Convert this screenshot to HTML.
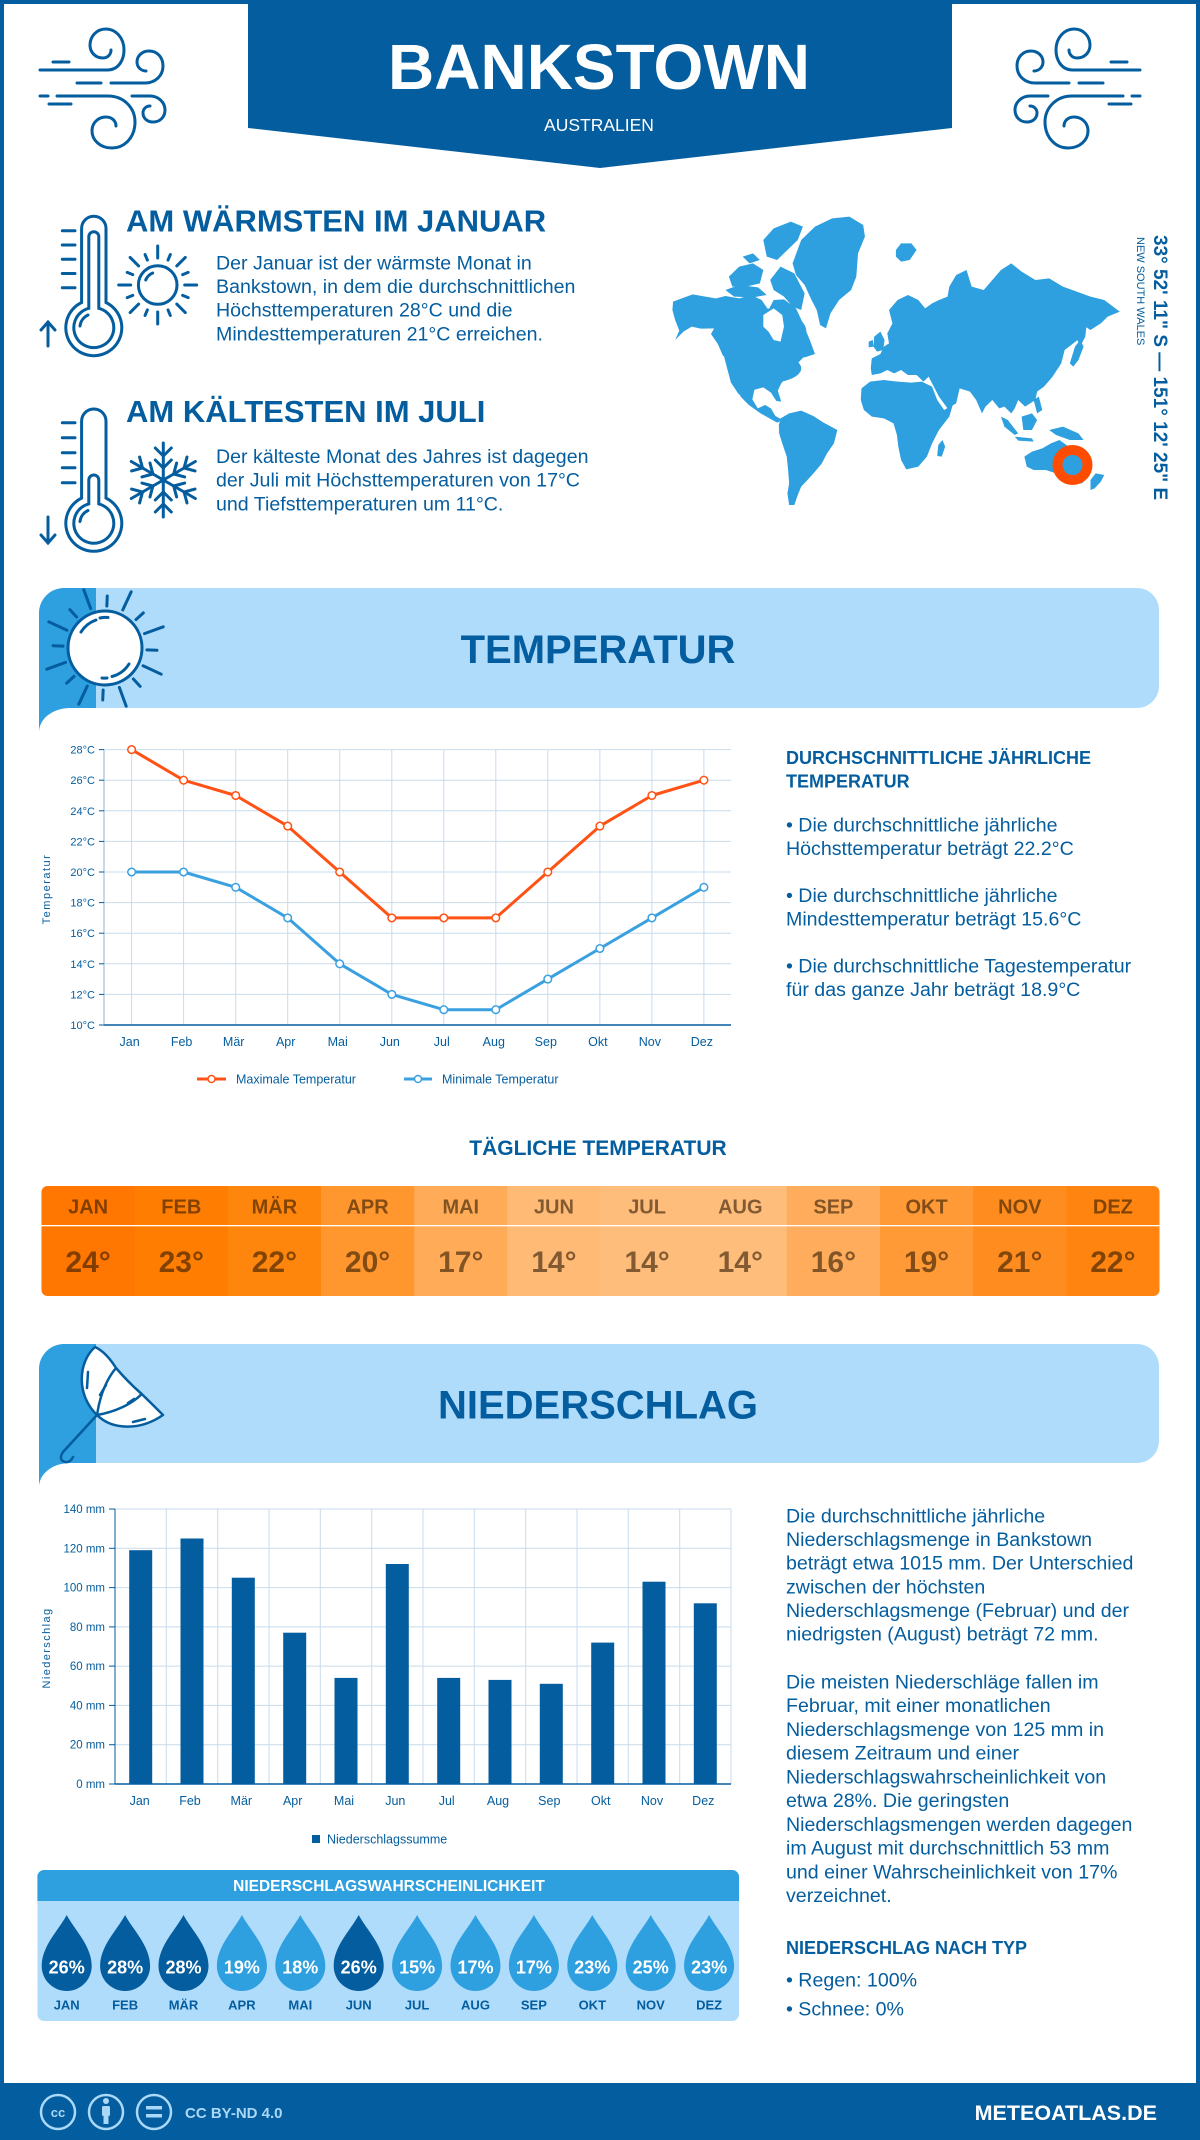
<!DOCTYPE html>
<html lang="de">
<head>
<meta charset="utf-8">
<title>Bankstown – Klima</title>
<style>
  html,body{margin:0;padding:0;background:#fff;}
  body{width:1200px;height:2140px;position:relative;overflow:hidden;font-family:"Liberation Sans",sans-serif;}
  .frame{position:absolute;left:0;top:0;width:1200px;height:2140px;box-sizing:border-box;border:4px solid #045d9e;}
  svg{position:absolute;left:0;top:0;}
</style>
</head>
<body>
<div class="frame"></div>
<svg width="1200" height="2140" viewBox="0 0 1200 2140" font-family="'Liberation Sans', sans-serif">
  <defs>
    <g id="windicon" fill="none" stroke="#045d9e" stroke-width="3" stroke-linecap="round">
      <path d="M40,70 H107 C120,70 124,58 124,50 C124,37 115,29 106,29 C96,29 90,37 90,45 C90,53 96,58 103,58 C108,58 111,54 111,50"/>
      <path d="M53,62 H69"/>
      <path d="M77,83 H101"/>
      <path d="M111,83 H145 C155,83 163,76 163,66 C163,57 157,51 149,51 C142,51 137,56 137,62 C137,67 141,71 146,71"/>
      <path d="M40,96 H48"/>
      <path d="M57,96 H108 C124,96 135,108 135,122 C135,138 124,148 112,148 C100,148 92,140 92,131 C92,123 98,117 106,117 C112,117 116,121 116,126"/>
      <path d="M132,96 H150 C158,96 165,102 165,110 C165,117 160,122 153,122 C147,122 143,118 143,113 C143,109 146,106 150,106"/>
      <path d="M49,104 H71"/>
    </g>
    <path id="drop" d="M0,1915 C8,1930 25,1946 25,1966 A25,25 0 0 1 -25,1966 C-25,1946 -8,1930 0,1915 Z"/>
    <clipPath id="tblclip"><rect x="41.5" y="1186" width="1118" height="110" rx="6"/></clipPath>
    <clipPath id="probclip"><rect x="37.3" y="1870" width="701.7" height="151" rx="7"/></clipPath>
  </defs>

  <!-- HEADER -->
  <polygon points="248,0 952,0 952,128 600,168 248,128" fill="#045d9e"/>
  <text x="599" y="89" text-anchor="middle" font-size="64" font-weight="bold" fill="#fff">BANKSTOWN</text>
  <text x="599" y="131" text-anchor="middle" font-size="17.5" fill="#fff">AUSTRALIEN</text>
  <use href="#windicon"/>
  <g transform="translate(1180,0) scale(-1,1)"><use href="#windicon"/></g>

  <!-- WARMEST / COLDEST -->
  <text x="126" y="231.5" font-size="31" font-weight="bold" fill="#045d9e">AM WÄRMSTEN IM JANUAR</text>
  <g font-size="19.6" fill="#045d9e">
    <text x="216" y="269.3">Der Januar ist der wärmste Monat in</text>
    <text x="216" y="293">Bankstown, in dem die durchschnittlichen</text>
    <text x="216" y="316.7">Höchsttemperaturen 28°C und die</text>
    <text x="216" y="340.4">Mindesttemperaturen 21°C erreichen.</text>
  </g>
  <text x="126" y="422" font-size="31" font-weight="bold" fill="#045d9e">AM KÄLTESTEN IM JULI</text>
  <g font-size="19.6" fill="#045d9e">
    <text x="216" y="463">Der kälteste Monat des Jahres ist dagegen</text>
    <text x="216" y="486.7">der Juli mit Höchsttemperaturen von 17°C</text>
    <text x="216" y="510.4">und Tiefsttemperaturen um 11°C.</text>
  </g>

  <!-- thermometer 1 -->
  <g fill="none" stroke="#045d9e" stroke-width="3" stroke-linecap="round">
    <path d="M81.6,302.5 V228.4 A12.2,12.2 0 0 1 106,228.4 V302.5 A28,28 0 1 1 81.6,302.5 Z"/>
    <path d="M88.8,308.3 V236.7 A5,5 0 0 1 98.8,236.7 V308.3 A20,20 0 1 1 88.8,308.3 Z"/>
    <path d="M80,326 A14,14 0 0 1 88,315"/>
    <path d="M62.3,230.7 H75 M62.3,245 H75 M62.3,259.3 H75 M62.3,273.5 H75 M62.3,287.7 H75"/>
    <path d="M48,346 V322 M41,330 L48,322 L55,330"/>
  </g>
  <!-- sun icon -->
  <g transform="translate(157.7,285)" fill="none" stroke="#045d9e" stroke-width="3" stroke-linecap="round">
    <circle r="19.3"/>
    <path d="M-12,-5 A13,13 0 0 1 -5,-12"/>
    <line x1="27" y1="0" x2="39" y2="0"/>
    <line x1="27" y1="0" x2="33" y2="0" transform="rotate(22.5)"/>
    <line x1="27" y1="0" x2="39" y2="0" transform="rotate(45)"/>
    <line x1="27" y1="0" x2="33" y2="0" transform="rotate(67.5)"/>
    <line x1="27" y1="0" x2="39" y2="0" transform="rotate(90)"/>
    <line x1="27" y1="0" x2="33" y2="0" transform="rotate(112.5)"/>
    <line x1="27" y1="0" x2="39" y2="0" transform="rotate(135)"/>
    <line x1="27" y1="0" x2="33" y2="0" transform="rotate(157.5)"/>
    <line x1="27" y1="0" x2="39" y2="0" transform="rotate(180)"/>
    <line x1="27" y1="0" x2="33" y2="0" transform="rotate(202.5)"/>
    <line x1="27" y1="0" x2="39" y2="0" transform="rotate(225)"/>
    <line x1="27" y1="0" x2="33" y2="0" transform="rotate(247.5)"/>
    <line x1="27" y1="0" x2="39" y2="0" transform="rotate(270)"/>
    <line x1="27" y1="0" x2="33" y2="0" transform="rotate(292.5)"/>
    <line x1="27" y1="0" x2="39" y2="0" transform="rotate(315)"/>
    <line x1="27" y1="0" x2="33" y2="0" transform="rotate(337.5)"/>
  </g>
  <!-- thermometer 2 -->
  <g fill="none" stroke="#045d9e" stroke-width="3" stroke-linecap="round">
    <path d="M81.6,498.1 V421.2 A12.2,12.2 0 0 1 106,421.2 V498.1 A28,28 0 1 1 81.6,498.1 Z"/>
    <path d="M88.8,503.9 V480 A5,5 0 0 1 98.8,480 V503.9 A20,20 0 1 1 88.8,503.9 Z"/>
    <path d="M80,521.5 A14,14 0 0 1 88,510.5"/>
    <path d="M62.3,422.7 H75 M62.3,437.7 H75 M62.3,452.7 H75 M62.3,467.7 H75 M62.3,482.7 H75"/>
    <path d="M48,517 V543 M41,535 L48,543 L55,535"/>
  </g>
  <!-- snowflake -->
  <g transform="translate(163.3,480)" fill="none" stroke="#045d9e" stroke-width="3" stroke-linecap="round" stroke-linejoin="round">
    <g id="arm"><line x1="0" y1="0" x2="0" y2="-37"/><polyline points="-8,-20 0,-12 8,-20"/><polyline points="-8,-32 0,-24 8,-32"/></g>
    <use href="#arm" transform="rotate(60)"/>
    <use href="#arm" transform="rotate(120)"/>
    <use href="#arm" transform="rotate(180)"/>
    <use href="#arm" transform="rotate(240)"/>
    <use href="#arm" transform="rotate(300)"/>
  </g>

  <!-- WORLD MAP -->
  <g transform="translate(660,200) scale(0.34439,0.33333)" fill="#2e9fdf">
    <ellipse cx="300" cy="395" rx="125" ry="70"/>
    <ellipse cx="305" cy="505" rx="105" ry="45"/>
    <!-- Alaska -->
    <polygon points="38,305 95,283 165,296 172,385 118,386 92,380 68,395 44,420 56,392 44,360 36,330"/>
    <!-- Canada -->
    <polygon points="160,296 190,288 230,295 265,285 295,300 315,330 330,300 360,298 395,325 415,370 435,420 450,462 420,472 380,470 300,462 230,462 183,468 168,432 148,402 160,380"/>
    <!-- USA -->
    <polygon points="183,458 300,452 422,466 395,495 372,525 352,550 342,572 352,605 338,603 322,578 300,562 272,570 250,580 228,582 206,548 195,505"/>
    <!-- Mexico / Central America -->
    <polygon points="222,570 275,565 268,598 284,625 305,615 322,625 335,648 356,660 340,668 318,655 292,640 258,615 236,592"/>
    <!-- Arctic islands -->
    <polygon points="320,240 350,200 390,220 420,280 410,330 385,320 360,290 330,270"/>
    <polygon points="300,120 330,85 380,65 415,80 400,120 370,150 340,180 310,170"/>
    <polygon points="200,230 230,200 270,190 300,210 290,250 250,260 210,260"/>
    <polygon points="240,170 270,160 290,180 260,190"/>
    <polygon points="190,270 230,255 285,262 310,285 270,292 215,290"/>
    <!-- Greenland -->
    <polygon points="385,190 410,120 450,80 500,55 550,50 590,75 595,110 575,160 570,230 555,270 520,300 495,340 482,385 465,375 455,330 440,300 420,255 395,225"/>
    <!-- Iceland -->
    <polygon points="685,150 700,130 730,130 745,150 725,180 700,185 685,170"/>
    <!-- Eurasia -->
    <polygon points="612,505 615,475 640,462 650,440 665,430 660,400 675,370 665,330 690,300 720,285 750,300 770,325 790,310 810,300 835,290 840,260 860,225 890,210 905,260 940,270 965,240 990,210 1020,190 1050,215 1090,240 1130,235 1170,260 1210,275 1250,290 1290,300 1335,335 1300,350 1280,370 1250,390 1235,380 1225,410 1200,430 1175,450 1165,490 1140,530 1115,560 1095,575 1090,600 1060,620 1040,600 1030,625 1020,640 1000,620 985,625 965,600 945,620 935,640 918,600 900,575 870,565 860,610 835,625 810,590 795,560 780,530 765,545 745,525 720,525 700,510 680,520 660,510 640,520 615,525"/>
    <!-- Africa -->
    <polygon points="585,565 610,545 650,540 690,545 730,548 760,545 790,560 805,600 825,630 850,615 840,650 810,690 790,730 775,770 750,800 715,808 700,780 692,740 688,705 678,670 650,655 615,650 592,630 583,600"/>
    <polygon points="808,735 820,720 828,740 818,770 805,768"/>
    <polygon points="622,410 640,395 652,420 648,450 630,455 620,440"/>
    <polygon points="606,425 618,420 620,440 606,442"/>
    <polygon points="1205,440 1220,420 1230,440 1215,480 1200,500 1190,490"/>
    <polygon points="1215,370 1240,360 1235,410 1220,440 1212,420"/>
    <polygon points="990,650 1010,660 1040,700 1030,705 1000,680"/>
    <polygon points="1050,650 1080,640 1095,660 1080,690 1055,690"/>
    <polygon points="1030,710 1080,715 1085,725 1040,722"/>
    <polygon points="1130,690 1170,680 1215,700 1230,720 1190,720 1150,705"/>
    <polygon points="1085,600 1100,590 1110,630 1095,640"/>
    <!-- Australia / NZ -->
    <polygon points="1058,770 1080,755 1110,745 1135,730 1160,720 1180,735 1195,750 1220,770 1245,800 1245,830 1225,850 1195,850 1170,835 1150,820 1120,810 1085,810 1065,800"/>
    <polygon points="1250,840 1265,820 1290,825 1280,845 1262,865 1250,870"/>
    <!-- South America -->
    <polygon points="350,655 375,640 410,632 445,648 475,668 515,690 505,730 485,760 470,790 450,815 430,838 410,860 400,885 390,915 375,915 370,880 375,850 372,810 368,770 355,730 346,700 345,675"/>
    <!-- Hudson Bay -->
    <polygon fill="#fff" points="300,345 330,325 355,345 360,380 350,425 330,420 315,395 300,380"/>
  </g>
  <circle cx="1072.5" cy="465" r="15" fill="none" stroke="#ff4c00" stroke-width="10"/>
  <text transform="translate(1154,235) rotate(90)" font-size="19" font-weight="bold" fill="#045d9e">33° 52' 11" S — 151° 12' 25" E</text>
  <text transform="translate(1137,237) rotate(90)" font-size="11" fill="#045d9e">NEW SOUTH WALES</text>

  <!-- TEMPERATURE BANNER -->
  <path d="M39,732 V613 A25,25 0 0 1 64,588 H96 V708 H70 A31,24 0 0 0 39,732 Z" fill="#2e9fdf"/>
  <path d="M96,588 H1137 A22,22 0 0 1 1159,610 V686 A22,22 0 0 1 1137,708 H96 Z" fill="#b0dcfc"/>
  <g stroke="#045d9e" stroke-width="3" stroke-linecap="round" transform="translate(105,648)">
    <line x1="42" y1="0" x2="62" y2="0" transform="rotate(-110)"/>
    <line x1="42" y1="0" x2="52" y2="0" transform="rotate(-87.5)"/>
    <line x1="42" y1="0" x2="62" y2="0" transform="rotate(-65)"/>
    <line x1="42" y1="0" x2="52" y2="0" transform="rotate(-42.5)"/>
    <line x1="42" y1="0" x2="62" y2="0" transform="rotate(-20)"/>
    <line x1="42" y1="0" x2="52" y2="0" transform="rotate(2.5)"/>
    <line x1="42" y1="0" x2="62" y2="0" transform="rotate(25)"/>
    <line x1="42" y1="0" x2="52" y2="0" transform="rotate(47.5)"/>
    <line x1="42" y1="0" x2="62" y2="0" transform="rotate(70)"/>
    <line x1="42" y1="0" x2="52" y2="0" transform="rotate(92.5)"/>
    <line x1="42" y1="0" x2="62" y2="0" transform="rotate(115)"/>
    <line x1="42" y1="0" x2="52" y2="0" transform="rotate(137.5)"/>
    <line x1="42" y1="0" x2="62" y2="0" transform="rotate(160)"/>
    <line x1="42" y1="0" x2="52" y2="0" transform="rotate(182.5)"/>
    <line x1="42" y1="0" x2="62" y2="0" transform="rotate(205)"/>
    <line x1="42" y1="0" x2="52" y2="0" transform="rotate(227.5)"/>
    <circle r="37" fill="#fff"/>
    <path d="M-24,-16 A29,29 0 0 1 -9,-28" fill="none"/>
    <path d="M-5,-30 A30,30 0 0 1 3,-30.5" fill="none"/>
    <path d="M24,16 A29,29 0 0 1 7,28.5" fill="none"/>
    <path d="M2,30 A30,30 0 0 1 -3,30" fill="none"/>
  </g>
  <text x="598" y="663" text-anchor="middle" font-size="40" font-weight="bold" fill="#045d9e">TEMPERATUR</text>

  <!-- TEMPERATURE CHART -->
  <g stroke="#c8dbeb" stroke-width="1">
    <line x1="104" y1="749.6" x2="731" y2="749.6"/>
    <line x1="104" y1="780.2" x2="731" y2="780.2"/>
    <line x1="104" y1="810.8" x2="731" y2="810.8"/>
    <line x1="104" y1="841.4" x2="731" y2="841.4"/>
    <line x1="104" y1="872" x2="731" y2="872"/>
    <line x1="104" y1="902.6" x2="731" y2="902.6"/>
    <line x1="104" y1="933.2" x2="731" y2="933.2"/>
    <line x1="104" y1="963.8" x2="731" y2="963.8"/>
    <line x1="104" y1="994.4" x2="731" y2="994.4"/>
    <line x1="131.6" y1="749.6" x2="131.6" y2="1025"/>
    <line x1="183.6" y1="749.6" x2="183.6" y2="1025"/>
    <line x1="235.7" y1="749.6" x2="235.7" y2="1025"/>
    <line x1="287.7" y1="749.6" x2="287.7" y2="1025"/>
    <line x1="339.7" y1="749.6" x2="339.7" y2="1025"/>
    <line x1="391.8" y1="749.6" x2="391.8" y2="1025"/>
    <line x1="443.8" y1="749.6" x2="443.8" y2="1025"/>
    <line x1="495.8" y1="749.6" x2="495.8" y2="1025"/>
    <line x1="547.8" y1="749.6" x2="547.8" y2="1025"/>
    <line x1="599.9" y1="749.6" x2="599.9" y2="1025"/>
    <line x1="651.9" y1="749.6" x2="651.9" y2="1025"/>
    <line x1="703.9" y1="749.6" x2="703.9" y2="1025"/>
  </g>
  <line x1="104" y1="749.6" x2="104" y2="1025" stroke="#8fb3d3" stroke-width="1"/>
  <line x1="104" y1="1025" x2="731" y2="1025" stroke="#045d9e" stroke-width="1.5"/>
  <g stroke="#045d9e" stroke-width="1">
    <line x1="99" y1="749.6" x2="104" y2="749.6"/><line x1="99" y1="780.2" x2="104" y2="780.2"/>
    <line x1="99" y1="810.8" x2="104" y2="810.8"/><line x1="99" y1="841.4" x2="104" y2="841.4"/>
    <line x1="99" y1="872" x2="104" y2="872"/><line x1="99" y1="902.6" x2="104" y2="902.6"/>
    <line x1="99" y1="933.2" x2="104" y2="933.2"/><line x1="99" y1="963.8" x2="104" y2="963.8"/>
    <line x1="99" y1="994.4" x2="104" y2="994.4"/><line x1="99" y1="1025" x2="104" y2="1025"/>
  </g>
  <g font-size="11" fill="#045d9e" text-anchor="end">
    <text x="95" y="753.6">28°C</text><text x="95" y="784.2">26°C</text>
    <text x="95" y="814.8">24°C</text><text x="95" y="845.4">22°C</text>
    <text x="95" y="876">20°C</text><text x="95" y="906.6">18°C</text>
    <text x="95" y="937.2">16°C</text><text x="95" y="967.8">14°C</text>
    <text x="95" y="998.4">12°C</text><text x="95" y="1029">10°C</text>
  </g>
  <g font-size="12.5" fill="#045d9e" text-anchor="middle">
    <text x="129.6" y="1046">Jan</text><text x="181.6" y="1046">Feb</text>
    <text x="233.7" y="1046">Mär</text><text x="285.7" y="1046">Apr</text>
    <text x="337.7" y="1046">Mai</text><text x="389.8" y="1046">Jun</text>
    <text x="441.8" y="1046">Jul</text><text x="493.8" y="1046">Aug</text>
    <text x="545.8" y="1046">Sep</text><text x="597.9" y="1046">Okt</text>
    <text x="649.9" y="1046">Nov</text><text x="701.9" y="1046">Dez</text>
  </g>
  <text transform="translate(50,889) rotate(-90)" text-anchor="middle" font-size="11" letter-spacing="1.5" fill="#045d9e">Temperatur</text>
  <polyline fill="none" stroke="#ff5214" stroke-width="3" stroke-linejoin="round"
    points="131.6,749.6 183.6,780.2 235.7,795.5 287.7,826.1 339.7,872 391.8,917.9 443.8,917.9 495.8,917.9 547.8,872 599.9,826.1 651.9,795.5 703.9,780.2"/>
  <polyline fill="none" stroke="#3aa0e0" stroke-width="3" stroke-linejoin="round"
    points="131.6,872 183.6,872 235.7,887.3 287.7,917.9 339.7,963.8 391.8,994.4 443.8,1009.7 495.8,1009.7 547.8,979.1 599.9,948.5 651.9,917.9 703.9,887.3"/>
  <g fill="#fff" stroke="#ff5214" stroke-width="1.5">
    <circle cx="131.6" cy="749.6" r="3.8"/><circle cx="183.6" cy="780.2" r="3.8"/>
    <circle cx="235.7" cy="795.5" r="3.8"/><circle cx="287.7" cy="826.1" r="3.8"/>
    <circle cx="339.7" cy="872" r="3.8"/><circle cx="391.8" cy="917.9" r="3.8"/>
    <circle cx="443.8" cy="917.9" r="3.8"/><circle cx="495.8" cy="917.9" r="3.8"/>
    <circle cx="547.8" cy="872" r="3.8"/><circle cx="599.9" cy="826.1" r="3.8"/>
    <circle cx="651.9" cy="795.5" r="3.8"/><circle cx="703.9" cy="780.2" r="3.8"/>
  </g>
  <g fill="#fff" stroke="#3aa0e0" stroke-width="1.5">
    <circle cx="131.6" cy="872" r="3.8"/><circle cx="183.6" cy="872" r="3.8"/>
    <circle cx="235.7" cy="887.3" r="3.8"/><circle cx="287.7" cy="917.9" r="3.8"/>
    <circle cx="339.7" cy="963.8" r="3.8"/><circle cx="391.8" cy="994.4" r="3.8"/>
    <circle cx="443.8" cy="1009.7" r="3.8"/><circle cx="495.8" cy="1009.7" r="3.8"/>
    <circle cx="547.8" cy="979.1" r="3.8"/><circle cx="599.9" cy="948.5" r="3.8"/>
    <circle cx="651.9" cy="917.9" r="3.8"/><circle cx="703.9" cy="887.3" r="3.8"/>
  </g>
  <!-- legend -->
  <line x1="197" y1="1079" x2="226" y2="1079" stroke="#ff5214" stroke-width="3"/>
  <circle cx="211.5" cy="1079" r="3.5" fill="#fff" stroke="#ff5214" stroke-width="1.5"/>
  <text x="236" y="1083.5" font-size="12.5" fill="#045d9e">Maximale Temperatur</text>
  <line x1="404" y1="1079" x2="432" y2="1079" stroke="#3aa0e0" stroke-width="3"/>
  <circle cx="418" cy="1079" r="3.5" fill="#fff" stroke="#3aa0e0" stroke-width="1.5"/>
  <text x="442" y="1083.5" font-size="12.5" fill="#045d9e">Minimale Temperatur</text>

  <!-- right text temperature -->
  <g font-size="18" font-weight="bold" fill="#045d9e">
    <text x="786" y="764">DURCHSCHNITTLICHE JÄHRLICHE</text>
    <text x="786" y="787.6">TEMPERATUR</text>
  </g>
  <g font-size="19.6" fill="#045d9e">
    <text x="786" y="831.5">• Die durchschnittliche jährliche</text>
    <text x="786" y="855">Höchsttemperatur beträgt 22.2°C</text>
    <text x="786" y="902">• Die durchschnittliche jährliche</text>
    <text x="786" y="925.5">Mindesttemperatur beträgt 15.6°C</text>
    <text x="786" y="972.5">• Die durchschnittliche Tagestemperatur</text>
    <text x="786" y="996">für das ganze Jahr beträgt 18.9°C</text>
  </g>

  <!-- DAILY TEMPERATURE -->
  <text x="598" y="1155" text-anchor="middle" font-size="21" font-weight="bold" fill="#045d9e">TÄGLICHE TEMPERATUR</text>
  <g clip-path="url(#tblclip)">
    <rect x="41.5" y="1186" width="94" height="110" fill="#ff7600"/>
    <rect x="134.7" y="1186" width="94" height="110" fill="#ff7e02"/>
    <rect x="227.8" y="1186" width="94" height="110" fill="#ff860c"/>
    <rect x="321" y="1186" width="94" height="110" fill="#ff962e"/>
    <rect x="414.2" y="1186" width="94" height="110" fill="#ffab57"/>
    <rect x="507.3" y="1186" width="94" height="110" fill="#ffba75"/>
    <rect x="600.5" y="1186" width="94" height="110" fill="#ffbd7b"/>
    <rect x="693.7" y="1186" width="94" height="110" fill="#ffbd7b"/>
    <rect x="786.8" y="1186" width="94" height="110" fill="#ffad5c"/>
    <rect x="880" y="1186" width="94" height="110" fill="#ff9a37"/>
    <rect x="973.2" y="1186" width="94" height="110" fill="#ff8c1e"/>
    <rect x="1066.3" y="1186" width="94" height="110" fill="#ff8510"/>
    <rect x="41.5" y="1225" width="1118" height="1.3" fill="#fff"/>
  </g>
  <g font-size="20" font-weight="bold" fill="rgba(40,20,0,0.58)" text-anchor="middle">
    <text x="88.1" y="1213.3">JAN</text><text x="181.3" y="1213.3">FEB</text>
    <text x="274.4" y="1213.3">MÄR</text><text x="367.6" y="1213.3">APR</text>
    <text x="460.8" y="1213.3">MAI</text><text x="553.9" y="1213.3">JUN</text>
    <text x="647.1" y="1213.3">JUL</text><text x="740.3" y="1213.3">AUG</text>
    <text x="833.4" y="1213.3">SEP</text><text x="926.6" y="1213.3">OKT</text>
    <text x="1019.8" y="1213.3">NOV</text><text x="1112.9" y="1213.3">DEZ</text>
  </g>
  <g font-size="30" font-weight="bold" fill="rgba(40,20,0,0.58)" text-anchor="middle">
    <text x="88.1" y="1272">24°</text><text x="181.3" y="1272">23°</text>
    <text x="274.4" y="1272">22°</text><text x="367.6" y="1272">20°</text>
    <text x="460.8" y="1272">17°</text><text x="553.9" y="1272">14°</text>
    <text x="647.1" y="1272">14°</text><text x="740.3" y="1272">14°</text>
    <text x="833.4" y="1272">16°</text><text x="926.6" y="1272">19°</text>
    <text x="1019.8" y="1272">21°</text><text x="1112.9" y="1272">22°</text>
  </g>

  <!-- PRECIPITATION BANNER -->
  <path d="M39,1488 V1369 A25,25 0 0 1 64,1344 H96 V1463 H70 A31,24 0 0 0 39,1488 Z" fill="#2e9fdf"/>
  <path d="M96,1344 H1137 A22,22 0 0 1 1159,1366 V1441 A22,22 0 0 1 1137,1463 H96 Z" fill="#b0dcfc"/>
  <g fill="none" stroke="#045d9e" stroke-width="2.5" stroke-linecap="round" stroke-linejoin="round">
    <path d="M95,1347 C78,1362 76,1395 97,1415 C112,1430 140,1431 163,1415 Q150,1402 141.7,1394 Q128,1382 116,1368 Q106,1352 95,1347 Z" fill="#fff"/>
    <path d="M97,1415 C100,1395 106,1380 116,1368"/>
    <path d="M97,1415 C115,1412 132,1404 141.7,1394"/>
    <path d="M88,1372 L87,1388"/>
    <path d="M100,1395 L106,1385"/>
    <path d="M128,1403 L134,1399"/>
    <path d="M133,1422 L145,1419"/>
    <path d="M97,1415 L63,1452 Q58,1460 65,1462 Q70,1463 73,1457"/>
  </g>
  <text x="598" y="1418.5" text-anchor="middle" font-size="40" font-weight="bold" fill="#045d9e">NIEDERSCHLAG</text>

  <!-- BAR CHART -->
  <g stroke="#c8dbeb" stroke-width="1">
    <line x1="115" y1="1509" x2="731" y2="1509"/>
    <line x1="115" y1="1548.3" x2="731" y2="1548.3"/>
    <line x1="115" y1="1587.6" x2="731" y2="1587.6"/>
    <line x1="115" y1="1626.9" x2="731" y2="1626.9"/>
    <line x1="115" y1="1666.1" x2="731" y2="1666.1"/>
    <line x1="115" y1="1705.4" x2="731" y2="1705.4"/>
    <line x1="115" y1="1744.7" x2="731" y2="1744.7"/>
    <line x1="166.3" y1="1509" x2="166.3" y2="1784"/>
    <line x1="217.7" y1="1509" x2="217.7" y2="1784"/>
    <line x1="269" y1="1509" x2="269" y2="1784"/>
    <line x1="320.3" y1="1509" x2="320.3" y2="1784"/>
    <line x1="371.7" y1="1509" x2="371.7" y2="1784"/>
    <line x1="423" y1="1509" x2="423" y2="1784"/>
    <line x1="474.3" y1="1509" x2="474.3" y2="1784"/>
    <line x1="525.7" y1="1509" x2="525.7" y2="1784"/>
    <line x1="577" y1="1509" x2="577" y2="1784"/>
    <line x1="628.3" y1="1509" x2="628.3" y2="1784"/>
    <line x1="679.7" y1="1509" x2="679.7" y2="1784"/>
    <line x1="731" y1="1509" x2="731" y2="1784"/>
  </g>
  <line x1="115" y1="1509" x2="115" y2="1784" stroke="#045d9e" stroke-width="1"/>
  <line x1="115" y1="1784" x2="731" y2="1784" stroke="#045d9e" stroke-width="1.5"/>
  <g stroke="#045d9e" stroke-width="1">
    <line x1="109" y1="1509" x2="115" y2="1509"/><line x1="109" y1="1548.3" x2="115" y2="1548.3"/>
    <line x1="109" y1="1587.6" x2="115" y2="1587.6"/><line x1="109" y1="1626.9" x2="115" y2="1626.9"/>
    <line x1="109" y1="1666.1" x2="115" y2="1666.1"/><line x1="109" y1="1705.4" x2="115" y2="1705.4"/>
    <line x1="109" y1="1744.7" x2="115" y2="1744.7"/><line x1="109" y1="1784" x2="115" y2="1784"/>
  </g>
  <g font-size="11.5" fill="#045d9e" text-anchor="end">
    <text x="105" y="1513">140 mm</text><text x="105" y="1552.3">120 mm</text>
    <text x="105" y="1591.6">100 mm</text><text x="105" y="1630.9">80 mm</text>
    <text x="105" y="1670.1">60 mm</text><text x="105" y="1709.4">40 mm</text>
    <text x="105" y="1748.7">20 mm</text><text x="105" y="1788">0 mm</text>
  </g>
  <g fill="#045d9e">
    <rect x="129.2" y="1550.2" width="23" height="233.8"/>
    <rect x="180.5" y="1538.5" width="23" height="245.5"/>
    <rect x="231.8" y="1577.7" width="23" height="206.3"/>
    <rect x="283.2" y="1632.7" width="23" height="151.3"/>
    <rect x="334.5" y="1677.9" width="23" height="106.1"/>
    <rect x="385.8" y="1564" width="23" height="220"/>
    <rect x="437.2" y="1677.9" width="23" height="106.1"/>
    <rect x="488.5" y="1679.9" width="23" height="104.1"/>
    <rect x="539.8" y="1683.8" width="23" height="100.2"/>
    <rect x="591.2" y="1642.6" width="23" height="141.4"/>
    <rect x="642.5" y="1581.7" width="23" height="202.3"/>
    <rect x="693.8" y="1603.3" width="23" height="180.7"/>
  </g>
  <g font-size="12.5" fill="#045d9e" text-anchor="middle">
    <text x="139.7" y="1805">Jan</text><text x="190" y="1805">Feb</text>
    <text x="241.3" y="1805">Mär</text><text x="292.7" y="1805">Apr</text>
    <text x="344" y="1805">Mai</text><text x="395.3" y="1805">Jun</text>
    <text x="446.7" y="1805">Jul</text><text x="498" y="1805">Aug</text>
    <text x="549.3" y="1805">Sep</text><text x="600.7" y="1805">Okt</text>
    <text x="652" y="1805">Nov</text><text x="703.3" y="1805">Dez</text>
  </g>
  <text transform="translate(50,1648) rotate(-90)" text-anchor="middle" font-size="11" letter-spacing="1.4" fill="#045d9e">Niederschlag</text>
  <rect x="312" y="1835" width="8" height="8" fill="#045d9e"/>
  <text x="327" y="1843.5" font-size="12.5" fill="#045d9e">Niederschlagssumme</text>

  <!-- right text precipitation -->
  <g font-size="19.6" fill="#045d9e">
    <text x="786" y="1522.3">Die durchschnittliche jährliche</text>
    <text x="786" y="1546">Niederschlagsmenge in Bankstown</text>
    <text x="786" y="1569.6">beträgt etwa 1015 mm. Der Unterschied</text>
    <text x="786" y="1593.3">zwischen der höchsten</text>
    <text x="786" y="1617">Niederschlagsmenge (Februar) und der</text>
    <text x="786" y="1640.6">niedrigsten (August) beträgt 72 mm.</text>
    <text x="786" y="1688.3">Die meisten Niederschläge fallen im</text>
    <text x="786" y="1712.1">Februar, mit einer monatlichen</text>
    <text x="786" y="1735.8">Niederschlagsmenge von 125 mm in</text>
    <text x="786" y="1759.6">diesem Zeitraum und einer</text>
    <text x="786" y="1783.3">Niederschlagswahrscheinlichkeit von</text>
    <text x="786" y="1807.1">etwa 28%. Die geringsten</text>
    <text x="786" y="1830.8">Niederschlagsmengen werden dagegen</text>
    <text x="786" y="1854.6">im August mit durchschnittlich 53 mm</text>
    <text x="786" y="1878.3">und einer Wahrscheinlichkeit von 17%</text>
    <text x="786" y="1902.1">verzeichnet.</text>
  </g>
  <text x="786" y="1953.9" font-size="18" font-weight="bold" fill="#045d9e">NIEDERSCHLAG NACH TYP</text>
  <g font-size="19.6" fill="#045d9e">
    <text x="786" y="1986.3">• Regen: 100%</text>
    <text x="786" y="2015.3">• Schnee: 0%</text>
  </g>

  <!-- PROBABILITY BOX -->
  <g clip-path="url(#probclip)">
    <rect x="37.3" y="1870" width="701.7" height="151" fill="#b0dcfc"/>
    <rect x="37.3" y="1870" width="701.7" height="31" fill="#2e9fdf"/>
  </g>
  <text x="389" y="1891" text-anchor="middle" font-size="15.5" font-weight="bold" fill="#fff">NIEDERSCHLAGSWAHRSCHEINLICHKEIT</text>
  <g fill="#045d9e">
    <use href="#drop" transform="translate(66.7,0)"/>
    <use href="#drop" transform="translate(125.1,0)"/>
    <use href="#drop" transform="translate(183.5,0)"/>
    <use href="#drop" transform="translate(358.7,0)"/>
  </g>
  <g fill="#2e9fdf">
    <use href="#drop" transform="translate(241.9,0)"/>
    <use href="#drop" transform="translate(300.3,0)"/>
    <use href="#drop" transform="translate(417.1,0)"/>
    <use href="#drop" transform="translate(475.5,0)"/>
    <use href="#drop" transform="translate(533.9,0)"/>
    <use href="#drop" transform="translate(592.3,0)"/>
    <use href="#drop" transform="translate(650.7,0)"/>
    <use href="#drop" transform="translate(709.1,0)"/>
  </g>
  <g font-size="18" font-weight="bold" fill="#fff" text-anchor="middle">
    <text x="66.7" y="1973.5">26%</text><text x="125.1" y="1973.5">28%</text>
    <text x="183.5" y="1973.5">28%</text><text x="241.9" y="1973.5">19%</text>
    <text x="300.3" y="1973.5">18%</text><text x="358.7" y="1973.5">26%</text>
    <text x="417.1" y="1973.5">15%</text><text x="475.5" y="1973.5">17%</text>
    <text x="533.9" y="1973.5">17%</text><text x="592.3" y="1973.5">23%</text>
    <text x="650.7" y="1973.5">25%</text><text x="709.1" y="1973.5">23%</text>
  </g>
  <g font-size="13" font-weight="bold" fill="#045d9e" text-anchor="middle">
    <text x="66.7" y="2009.7">JAN</text><text x="125.1" y="2009.7">FEB</text>
    <text x="183.5" y="2009.7">MÄR</text><text x="241.9" y="2009.7">APR</text>
    <text x="300.3" y="2009.7">MAI</text><text x="358.7" y="2009.7">JUN</text>
    <text x="417.1" y="2009.7">JUL</text><text x="475.5" y="2009.7">AUG</text>
    <text x="533.9" y="2009.7">SEP</text><text x="592.3" y="2009.7">OKT</text>
    <text x="650.7" y="2009.7">NOV</text><text x="709.1" y="2009.7">DEZ</text>
  </g>

  <!-- FOOTER -->
  <rect x="0" y="2083" width="1200" height="57" fill="#045d9e"/>
  <g fill="none" stroke="#a9d8f8" stroke-width="2.5">
    <circle cx="58" cy="2112" r="17"/>
    <circle cx="106" cy="2112" r="17"/>
    <circle cx="154" cy="2112" r="17"/>
  </g>
  <text x="58" y="2117" text-anchor="middle" font-size="13" font-weight="bold" fill="#a9d8f8">cc</text>
  <g fill="#a9d8f8">
    <circle cx="106" cy="2101" r="3"/>
    <rect x="102" y="2106" width="8" height="10" rx="1.5"/>
    <rect x="103.5" y="2115" width="5" height="9"/>
    <rect x="146" y="2106" width="16" height="3.5"/>
    <rect x="146" y="2114" width="16" height="3.5"/>
  </g>
  <text x="185" y="2118" font-size="15" font-weight="bold" fill="#a9d8f8">CC BY-ND 4.0</text>
  <text x="1157" y="2120" text-anchor="end" font-size="21.5" font-weight="bold" fill="#fff">METEOATLAS.DE</text>
</svg>
</body>
</html>
